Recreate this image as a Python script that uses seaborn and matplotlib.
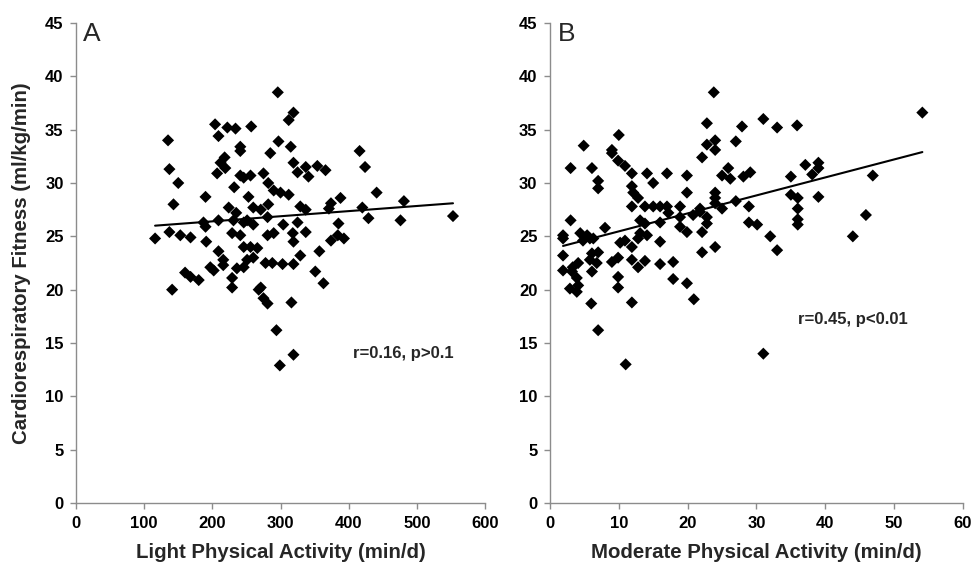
import matplotlib
matplotlib.use("Agg")
import matplotlib.pyplot as plt
import seaborn as sns
import pandas as pd

# Panel A: light physical activity (min/d) vs fitness (ml/kg/min)
light_x = [204, 222, 234, 209, 135, 241, 241, 218, 212, 219, 137, 207, 241, 246, 150, 232,
           190, 143, 253, 224, 235, 209, 187, 190, 231, 246, 137, 153, 168, 116, 229, 241,
           191, 209, 216, 216, 197, 202, 236, 160, 168, 180, 141, 229, 229,
           296, 319, 312, 257, 297, 315, 285, 416, 319, 325, 337, 341, 354, 366, 424, 256,
           275, 282, 290, 300, 312, 260, 271, 282, 281, 329, 337, 374, 388, 371, 441, 420,
           429, 251, 260, 304, 325, 337, 318, 281, 290, 385, 384, 393,
           374, 319, 246, 256, 266, 329, 357, 246, 251, 260, 278, 288, 303, 319, 351, 363,
           268, 271, 275, 281, 316, 294, 319, 299,
           481, 476, 553]
light_y = [35.5, 35.2, 35.1, 34.4, 34.0, 33.4, 33.0, 32.4, 31.9, 31.4, 31.3, 30.9, 30.7, 30.5, 30.0, 29.6,
           28.7, 28.0, 28.7, 27.7, 27.2, 26.5, 26.3, 25.9, 26.5, 26.3, 25.4, 25.1, 24.9, 24.8, 25.3, 25.1,
           24.5, 23.6, 22.8, 22.3, 22.1, 21.8, 22.0, 21.6, 21.2, 20.9, 20.0, 21.1, 20.2,
           38.5, 36.6, 35.9, 35.3, 33.9, 33.4, 32.8, 33.0, 31.9, 31.0, 31.5, 30.6, 31.6, 31.2, 31.5, 30.7,
           30.9, 30.0, 29.3, 29.1, 28.9, 27.7, 27.5, 28.0, 26.8, 27.8, 27.5, 28.1, 28.6, 27.6, 29.1, 27.7,
           26.7, 26.5, 26.1, 26.1, 26.3, 25.4, 25.3, 25.1, 25.3, 26.2, 25.1, 24.8,
           24.6, 24.5, 24.0, 24.0, 23.9, 23.2, 23.6, 22.1, 22.8, 23.0, 22.5, 22.5, 22.4, 22.4, 21.7, 20.6,
           20.0, 20.2, 19.2, 18.7, 18.8, 16.2, 13.9, 12.9,
           28.3, 26.5, 26.9]

# Panel B: moderate physical activity (min/d) vs fitness
mod_x = [22.8, 10.0, 4.9, 9.0, 9.0, 22.8, 22.1, 9.9, 10.9, 3.0, 6.1, 11.9, 14.1, 17.0, 19.9, 15.0,
         7.0, 7.0, 11.9, 12.1, 19.9, 12.8, 11.9, 13.8, 15.0, 16.0, 17.0, 18.9, 17.2, 18.9, 20.8, 21.8,
         3.0, 8.0, 13.1, 13.8, 16.0, 18.9, 19.9, 22.8, 1.9, 4.4, 5.4, 13.1, 14.1, 22.1,
         23.8, 27.9, 31.0, 33.0, 35.9, 24.0, 24.0, 27.0, 25.9, 25.0, 26.2, 29.1, 28.1, 35.0, 37.1, 39.0,
         39.0, 38.1, 46.9, 24.0, 24.0, 24.0, 21.8, 27.0, 25.0, 35.0, 36.0, 36.0, 39.0, 28.9, 22.8, 28.9,
         30.1, 36.0, 36.0, 45.9, 32.0, 44.0,
         22.1, 24.0, 33.0, 31.0,
         1.9, 5.8, 4.8, 6.3, 12.8, 16.0, 10.2, 10.9, 11.9, 1.9, 6.1, 7.0, 5.8, 6.8, 6.1, 4.1,
         3.3, 1.9, 3.2, 9.0, 9.9, 11.9, 12.8, 13.8, 16.0, 17.9, 3.9, 4.1, 2.9, 3.9, 9.9, 9.9,
         17.9, 19.9, 20.9, 6.0, 11.9, 7.0, 11.0, 54.1]
mod_y = [35.6, 34.5, 33.5, 33.1, 32.8, 33.6, 32.4, 32.1, 31.6, 31.4, 31.4, 30.9, 30.9, 30.9, 30.7, 30.0,
         30.2, 29.5, 29.7, 29.1, 29.1, 28.6, 27.8, 27.8, 27.8, 27.8, 27.8, 27.8, 27.2, 26.8, 27.0, 27.3,
         26.5, 25.8, 26.5, 26.2, 26.3, 25.9, 25.4, 26.2, 25.1, 25.3, 25.1, 25.3, 25.1, 25.4,
         38.5, 35.3, 36.0, 35.2, 35.4, 34.0, 33.1, 33.9, 31.4, 30.7, 30.4, 31.0, 30.6, 30.6, 31.7, 31.9,
         31.4, 30.8, 30.7, 29.1, 28.6, 28.1, 27.6, 28.3, 27.6, 28.9, 28.6, 27.6, 28.7, 27.8, 26.8, 26.3,
         26.1, 26.6, 26.1, 27.0, 25.0, 25.0,
         23.5, 24.0, 23.7, 14.0,
         24.8, 24.8, 24.6, 24.8, 24.8, 24.5, 24.4, 24.6, 24.0, 23.2, 23.4, 23.5, 22.8, 22.5, 21.7, 22.5,
         22.1, 21.8, 21.7, 22.6, 23.0, 22.8, 22.1, 22.7, 22.4, 22.6, 21.1, 20.4, 20.1, 19.8, 21.2, 20.2,
         21.0, 20.6, 19.1, 18.7, 18.8, 16.2, 13.0, 36.6]

# Trend lines
trend_a_x = [116, 553]
trend_a_y = [26.0, 28.1]
trend_b_x = [1.9, 54.1]
trend_b_y = [24.1, 32.9]

panel_labels = ["A", "B"]
x_labels = ["Light Physical Activity (min/d)", "Moderate Physical Activity (min/d)"]
y_label = "Cardiorespiratory Fitness (ml/kg/min)"
annotations = ["r=0.16, p>0.1", "r=0.45, p<0.01"]
annot_pos = [(406, 14.0), (36.0, 17.2)]
x_ticks = [list(range(0, 601, 100)), list(range(0, 61, 10))]
y_ticks = list(range(0, 46, 5))

sns.set_style("white")
plt.rcParams["font.family"] = ["Liberation Sans", "DejaVu Sans"]

fig = plt.figure(figsize=(9.72, 5.65), dpi=100)
ax_a = fig.add_axes([0.0782, 0.1097, 0.4208, 0.8496])
ax_b = fig.add_axes([0.5658, 0.1097, 0.4249, 0.8496])

data = [
    (ax_a, light_x, light_y, trend_a_x, trend_a_y, (0, 600)),
    (ax_b, mod_x, mod_y, trend_b_x, trend_b_y, (0, 60)),
]
grey = "#8c8c8c"
for i, (ax, xs, ys, tx, ty, xlim) in enumerate(data):
    df = pd.DataFrame({"x": xs, "y": ys})
    sns.scatterplot(data=df, x="x", y="y", ax=ax, marker="D", s=38,
                    color="black", edgecolor="none", linewidth=0, zorder=3)
    tdf = pd.DataFrame({"x": tx, "y": ty})
    sns.lineplot(data=tdf, x="x", y="y", ax=ax, color="black", linewidth=1.5, zorder=4)
    ax.set_xlim(*xlim)
    ax.set_ylim(0, 45)
    ax.set_xticks(x_ticks[i])
    ax.set_yticks(y_ticks)
    ax.set_xticklabels([str(t) for t in x_ticks[i]], fontsize=12, fontweight="bold")
    ax.set_yticklabels([str(t) for t in y_ticks], fontsize=12, fontweight="bold")
    ax.set_xlabel(x_labels[i], fontsize=14.7, fontweight="bold", labelpad=9)
    ax.set_ylabel(y_label if i == 0 else "", fontsize=14.7, fontweight="bold", labelpad=10)
    for side in ["top", "right"]:
        ax.spines[side].set_visible(False)
    for side in ["left", "bottom"]:
        ax.spines[side].set_color(grey)
        ax.spines[side].set_linewidth(1.0)
    ax.tick_params(axis="both", which="both", direction="out", length=4, width=1,
                   color=grey, labelcolor="black", bottom=True, left=True, pad=5)
    ax.text(0.018, 1.003, panel_labels[i], transform=ax.transAxes, fontsize=19,
            ha="left", va="top")
    ax.text(annot_pos[i][0], annot_pos[i][1], annotations[i], fontsize=12,
            fontweight="bold", ha="left", va="center")

fig.savefig("out.png", dpi=100)
